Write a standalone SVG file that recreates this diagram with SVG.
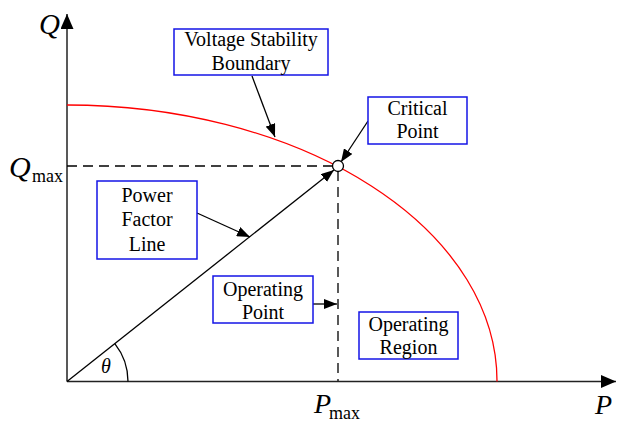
<svg xmlns="http://www.w3.org/2000/svg" width="617" height="423" viewBox="0 0 617 423">
<style>
.box{fill:#fff;stroke:#1414e6;stroke-width:1.5}
.lbl{font-family:"Liberation Serif","Times New Roman",serif;font-size:20px;fill:#000;text-anchor:middle}
.math{font-family:"Liberation Serif","Times New Roman",serif;font-style:italic;fill:#000}
.sub{font-family:"Liberation Serif","Times New Roman",serif;font-size:18px;fill:#000}
.ax{stroke:#222;stroke-width:1.5;fill:none}
.ln{stroke:#000;stroke-width:1.3;fill:none}
.dash{stroke:#000;stroke-width:1.3;fill:none;stroke-dasharray:10,6}
</style>
<defs>
<marker id="arr" markerUnits="userSpaceOnUse" markerWidth="14" markerHeight="10" refX="13" refY="5" orient="auto">
<path d="M0,0 L13,5 L0,10 Z" fill="#000"/>
</marker>
<marker id="axarr" markerUnits="userSpaceOnUse" markerWidth="16" markerHeight="14" refX="15" refY="6.5" orient="auto">
<path d="M0,0 L15,6.5 L0,13 Z" fill="#000"/>
</marker>
</defs>

<g id="axes">
<line class="ax" x1="67" y1="381.5" x2="67" y2="14" marker-end="url(#axarr)"/>
<line class="ax" x1="67" y1="381.5" x2="616" y2="381.5" marker-end="url(#axarr)"/>
<text class="math" x="39" y="34" font-size="29">Q</text>
<text class="math" x="595" y="414" font-size="28">P</text>
</g>

<g id="boundary">
<path d="M67,105 A430,276 0 0 1 497,381.5" fill="none" stroke="#ff0000" stroke-width="1.3"/>
</g>

<g id="qmax-label">
<text class="math" x="9" y="177" font-size="30">Q</text>
<text class="sub" x="32" y="182">max</text>
</g>
<g id="pmax-label">
<text class="math" x="314" y="413" font-size="28">P</text>
<text class="sub" x="329" y="419">max</text>
</g>

<g id="theta">
<path class="ln" d="M128,381.5 A61,61 0 0 0 114.8,343.6"/>
<text class="math" x="101" y="373" font-size="20">θ</text>
</g>

<g id="connectors">
<line class="dash" x1="67" y1="166" x2="333" y2="166"/>
<line class="dash" x1="338" y1="171" x2="338" y2="381"/>
<line class="ln" x1="67" y1="381.5" x2="334" y2="170" marker-end="url(#arr)"/>
<line class="ln" x1="252" y1="76" x2="275" y2="137" marker-end="url(#arr)"/>
<line class="ln" x1="368" y1="121" x2="341" y2="162" marker-end="url(#arr)"/>
<line class="ln" x1="197" y1="213" x2="250" y2="237" marker-end="url(#arr)"/>
<line class="ln" x1="313" y1="304" x2="337" y2="304" marker-end="url(#arr)"/>
</g>

<g id="critical-point-marker">
<circle cx="338" cy="166" r="5.5" fill="#fff" stroke="#000" stroke-width="1.3"/>
</g>

<g id="node-vsb">
<rect class="box" x="174" y="29" width="154" height="46"/>
<text class="lbl" x="251" y="46">Voltage Stability</text>
<text class="lbl" x="251" y="70">Boundary</text>
</g>

<g id="node-critical">
<rect class="box" x="368" y="97" width="99" height="47"/>
<text class="lbl" x="417.5" y="115">Critical</text>
<text class="lbl" x="417.5" y="138">Point</text>
</g>

<g id="node-pfl">
<rect class="box" x="97" y="181" width="100" height="78"/>
<text class="lbl" x="147" y="202">Power</text>
<text class="lbl" x="147" y="226">Factor</text>
<text class="lbl" x="147" y="251">Line</text>
</g>

<g id="node-op">
<rect class="box" x="213" y="276" width="100" height="47"/>
<text class="lbl" x="263" y="296">Operating</text>
<text class="lbl" x="263" y="319">Point</text>
</g>

<g id="node-or">
<rect class="box" x="359" y="312" width="99" height="47"/>
<text class="lbl" x="408.5" y="331">Operating</text>
<text class="lbl" x="408.5" y="354">Region</text>
</g>
</svg>
